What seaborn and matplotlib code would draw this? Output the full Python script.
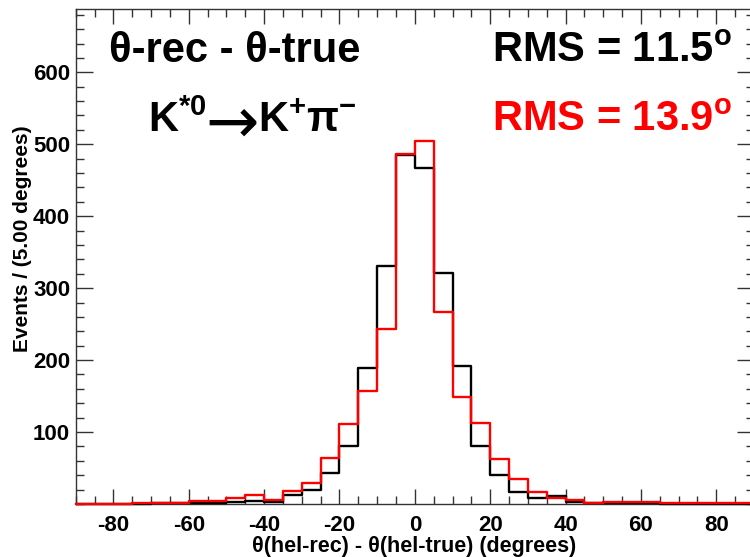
import numpy as np
import pandas as pd
import matplotlib
matplotlib.use("Agg")
import matplotlib.pyplot as plt
import seaborn as sns
from matplotlib.ticker import MultipleLocator, FixedLocator

# Helicity-angle resolution: theta(rec) - theta(true), 5-degree bins from -90 to 90
bin_lo, bin_hi, bin_w = -90, 90, 5
bin_centers = np.arange(bin_lo + bin_w / 2, bin_hi, bin_w)

counts_black = [0, 0, 0, 0, 1, 1, 2, 2, 3, 4, 3, 12, 19, 43, 80, 189, 331, 485,
                467, 321, 192, 80, 41, 17, 8, 11, 3, 2, 2, 1, 1, 0, 0, 0, 0, 0]
counts_red = [0, 0, 0, 2, 2, 2, 4, 4, 8, 13, 6, 18, 29, 64, 111, 157, 243, 487,
              504, 267, 149, 113, 63, 35, 16, 9, 6, 2, 3, 3, 3, 1, 1, 2, 2, 2]

rms_black = 11.5
rms_red = 13.9

df = pd.DataFrame({
    "dtheta": np.concatenate([bin_centers, bin_centers]),
    "events": np.concatenate([counts_black, counts_red]).astype(float),
    "sample": ["black"] * len(bin_centers) + ["red"] * len(bin_centers),
})

sns.set_style("ticks")
plt.rcParams["font.family"] = ["Liberation Sans", "DejaVu Sans"]
plt.rcParams["font.weight"] = "bold"
plt.rcParams["text.color"] = "black"
plt.rcParams["xtick.labelcolor"] = "black"
plt.rcParams["ytick.labelcolor"] = "black"
plt.rcParams["axes.unicode_minus"] = False
plt.rcParams["mathtext.fontset"] = "custom"
plt.rcParams["mathtext.rm"] = "Liberation Sans:bold"
plt.rcParams["mathtext.it"] = "Liberation Sans:bold"
plt.rcParams["mathtext.bf"] = "Liberation Sans:bold"
plt.rcParams["mathtext.sf"] = "Liberation Sans:bold"
plt.rcParams["mathtext.default"] = "rm"

fig = plt.figure(figsize=(7.5, 5.57), dpi=100)
ax = fig.add_axes([75.7 / 750, 1 - 504 / 557, (754 - 75.7) / 750, (504 - 9) / 557])

for name, col in [("black", "black"), ("red", "#ff0000")]:
    sub = df[df["sample"] == name]
    sns.histplot(data=sub, x="dtheta", weights="events",
                 binwidth=bin_w, binrange=(bin_lo, bin_hi),
                 element="step", fill=False, color=col, linewidth=1.7,
                 zorder=3, clip_on=False, ax=ax)

ax.set_xlim(bin_lo, bin_hi)
ax.set_ylim(0, 688)

ax.xaxis.set_major_locator(FixedLocator([-80, -60, -40, -20, 0, 20, 40, 60, 80]))
ax.xaxis.set_minor_locator(MultipleLocator(5))
ax.yaxis.set_major_locator(FixedLocator([100, 200, 300, 400, 500, 600]))
ax.yaxis.set_minor_locator(MultipleLocator(20))

tick_col = "#333333"
ax.tick_params(axis="both", which="both", direction="in", top=True, right=True,
               color=tick_col, width=1.0)
ax.tick_params(axis="x", which="major", length=11, pad=8, labelsize=16)
ax.tick_params(axis="x", which="minor", length=5.5)
ax.tick_params(axis="y", which="major", length=12.5, pad=4, labelsize=16)
ax.tick_params(axis="y", which="minor", length=5.5)
for lab in ax.get_xticklabels() + ax.get_yticklabels():
    lab.set_fontweight("bold")
for sp in ax.spines.values():
    sp.set_color(tick_col)
    sp.set_linewidth(1.0)

ax.set_xlabel("")
ax.set_ylabel("")
fig.text(414 / 750, 1 - 552 / 557, "θ(hel-rec) - θ(hel-true) (degrees)",
         ha="center", va="baseline", fontsize=15.5, fontweight="bold")
fig.text(23 / 750, 1 - 125 / 557, "Events / (5.00 degrees)", rotation=90,
         ha="center", va="top", fontsize=15, fontweight="bold")

big = 30
fig.text(109 / 750, 1 - 62 / 557, "θ-rec - θ-true", ha="left", va="baseline",
         fontsize=big, fontweight="bold")
fig.text(148 / 750, 1 - 132 / 557, r"$K^{*0}$", ha="left",
         va="baseline", fontsize=big, fontweight="bold")
fig.text(232 / 750, 1 - 118 / 557, "→", ha="center", va="center_baseline",
         fontsize=46, fontweight="normal", family="DejaVu Sans")
fig.text(258 / 750, 1 - 132 / 557, r"$K^{+}π^{-}$", ha="left",
         va="baseline", fontsize=big, fontweight="bold")
fig.text(732 / 750, 1 - 62 / 557, f"RMS = {rms_black}" + r"$^{o}$", ha="right",
         va="baseline", fontsize=big, fontweight="bold", color="black")
fig.text(732 / 750, 1 - 131 / 557, f"RMS = {rms_red}" + r"$^{o}$", ha="right",
         va="baseline", fontsize=big, fontweight="bold", color="#ff0000")

fig.savefig("out.png", dpi=100)
